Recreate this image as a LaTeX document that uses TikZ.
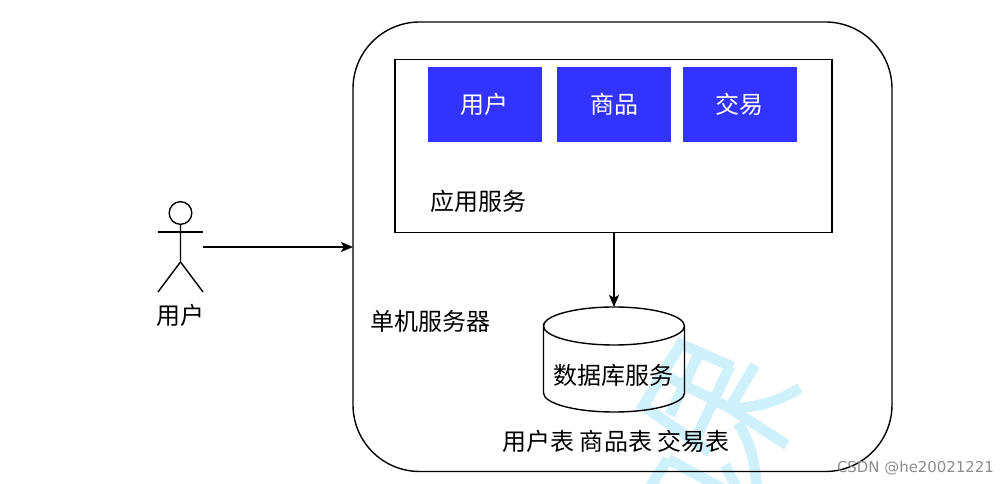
\documentclass[tikz,border=0pt]{standalone}
\usepackage{fontspec}
\setmainfont{Noto Sans CJK SC}
\newfontfamily\wm{DejaVu Sans}
\usetikzlibrary{arrows.meta,shapes.geometric}
\definecolor{wmblue}{HTML}{CFF1FC}
\definecolor{boxblue}{HTML}{3333FF}
\tikzset{
  px/.style={x=0.75pt,y=-0.75pt},
  ln/.style={draw=black,line width=1.05pt},
  arrow/.style={ln,-{Stealth[length=9pt,width=7.5pt,inset=2pt]}},
  lbl/.style={font=\fontsize{18pt}{20pt}\selectfont,inner sep=0pt,text=black},
  mod/.style={fill=boxblue,text=white,minimum width=85.5pt,minimum height=56pt,inner sep=0pt,font=\fontsize{18pt}{20pt}\selectfont},
  wmstroke/.style={draw=wmblue,line width=8pt},
}
\begin{document}
\begin{tikzpicture}[px]
\useasboundingbox (0,0) rectangle (1008,484);
\begin{scope}
\clip (0,0) rectangle (1008,484);
\draw[wmstroke,line join=miter] (733,367) -- (680.7,344) -- (643.3,406) -- (710,452);
\draw[wmstroke] (698,355) -- (670,415);
\draw[wmstroke] (730,366) -- (697,436);
\draw[wmstroke] (668,377) -- (728,407) -- (787,445);
\draw[wmstroke] (755,365) -- (728,411);
\draw[wmstroke] (800,388) .. controls (777,402) and (760,406) .. (738,408);
\draw[wmstroke] (738,423) .. controls (750,442) and (755,460) .. (757,490);
\draw[wmstroke] (668,459) -- (648,490);
\draw[wmstroke] (668,459) -- (725,490);
\draw[wmstroke] (725,465) -- (738,490);
\end{scope}
\draw[ln,rounded corners=50pt] (353,22) rectangle (892,471.5);
\coordinate (serverw) at (353,247);
\node[draw=black,line width=1.05pt,minimum width=328pt,minimum height=129.5pt,inner sep=0pt] (app) at (613.5,146) {};
\node[mod] (m1) at (485,104.5) {\hspace*{-1.5pt}用户};
\node[mod] (m2) at (614,104.5) {商品};
\node[mod] (m3) at (740,104.5) {\hspace*{-1.5pt}交易};
\node[lbl] (applabel) at (478,201.5) {应用服务};
\node[lbl] (srvlabel) at (430.5,321.5) {单机服务器};
% database
\coordinate (dbtop) at (614,307);
\draw[ln] (543.5,326) arc[start angle=180,end angle=0,x radius=70.5,y radius=-19]
  arc[start angle=0,end angle=-180,x radius=70.5,y radius=-19] -- (543.5,393)
  arc[start angle=180,end angle=360,x radius=70.5,y radius=-19] -- (684.5,326);
\node[lbl] (dblabel) at (613.5,375) {数据库服务};
\node[lbl] (tables) at (616,441.5) {用户表 商品表 交易表};
% actor
\node[draw=black,line width=1.05pt,circle,minimum size=17pt,inner sep=0pt] (head) at (180.5,213) {};
\coordinate (armL) at (158,232);
\coordinate (armR) at (203,232);
\coordinate (hip) at (180.5,262);
\coordinate (footL) at (158,292);
\coordinate (footR) at (203,292);
\coordinate (actorR) at (203,247);
\draw[ln] (head.south) -- (hip) -- (footL);
\draw[ln] (hip) -- (footR);
\draw[ln] (armL) -- (armR);
\node[lbl] (actor) at (180.8,315.5) {用户};
\draw[arrow] (actorR) -- (serverw);
\draw[arrow] (app.south -| dbtop) -- (dbtop);
\node[font=\fontsize{11.2pt}{13pt}\selectfont\wm,text=black!45,inner sep=0pt] (mark) at (915.5,468) {CSDN @he20021221};
\end{tikzpicture}
\end{document}
